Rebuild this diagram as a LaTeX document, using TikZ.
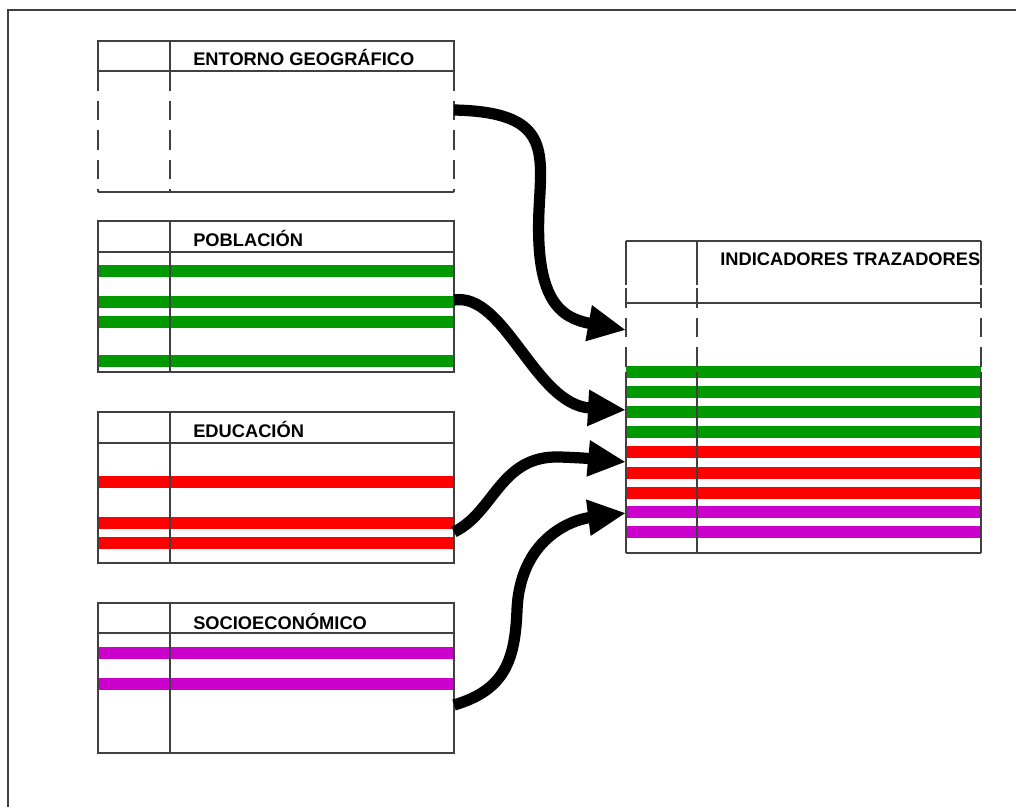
\documentclass[tikz,border=0pt]{standalone}
\usepackage{fontspec}
\setmainfont{Liberation Sans}
\usetikzlibrary{arrows.meta,calc}

\definecolor{gruen}{RGB}{0,153,0}
\definecolor{rot}{RGB}{255,0,0}
\definecolor{lila}{RGB}{204,0,204}

\tikzset{
  rahmen/.style={draw=black!75, line width=0.8pt},
  trenn/.style={draw=black!75, line width=0.8pt, dash pattern=on 14pt off 7pt},
  titel/.style={anchor=west, inner sep=0pt, font=\bfseries\fontsize{13}{15}\selectfont},
  balken/.style={line width=8.5pt},
  pfeil/.style={line width=8pt, -{Triangle[length=27pt,width=24pt]}}
}

\begin{document}
\begin{tikzpicture}[x=0.025cm,y=-0.025cm]
\useasboundingbox (0,0) rectangle (1016,807);
\draw[rahmen,line width=1.2pt] (8,807) -- (8,10) -- (1016,10);

\draw[rahmen] (98,41) rectangle (454,71);
\draw[rahmen] (170,41) -- (170,71);
\draw[rahmen] (98,192) -- (454,192);
\foreach \x in {98,170,454}
  \draw[trenn] (\x,71) -- (\x,192);
\node[titel] (t-entorno) at (193,57) {ENTORNO GEOGRÁFICO};

\foreach \y in {271,302,322,361}
  \draw[balken,gruen] (98,\y) -- (454,\y);
\draw[rahmen] (98,221) rectangle (454,372);
\draw[rahmen] (98,252) -- (454,252);
\draw[rahmen] (170,221) -- (170,372);
\node[titel] (t-poblacion) at (193,238) {POBLACIÓN};

\foreach \y in {482,523,543}
  \draw[balken,rot] (98,\y) -- (454,\y);
\draw[rahmen] (98,412) rectangle (454,563);
\draw[rahmen] (98,443) -- (454,443);
\draw[rahmen] (170,412) -- (170,563);
\node[titel] (t-educacion) at (193,429) {EDUCACIÓN};

\foreach \y in {653,684}
  \draw[balken,lila] (98,\y) -- (454,\y);
\draw[rahmen] (98,603) rectangle (454,753);
\draw[rahmen] (98,633) -- (454,633);
\draw[rahmen] (170,603) -- (170,753);
\node[titel] (t-socio) at (193,621) {SOCIOECONÓMICO};

\foreach \y in {372,392,412,432}
  \draw[balken,gruen] (626,\y) -- (981,\y);
\foreach \y in {452,473,493}
  \draw[balken,rot] (626,\y) -- (981,\y);
\foreach \y in {512,532}
  \draw[balken,lila] (626,\y) -- (981,\y);
\draw[rahmen] (626,241) -- (981,241);
\draw[rahmen] (626,303) -- (981,303);
\draw[rahmen] (626,553) -- (981,553);
\foreach \x in {626,697,981} {
  \draw[rahmen] (\x,241) -- (\x,285);
  \draw[trenn] (\x,288) -- (\x,372);
  \draw[rahmen] (\x,372) -- (\x,553);
}
\node[titel] (t-indicadores) at (720,259) {INDICADORES TRAZADORES};

\coordinate (entorno-aus) at (454,110);
\coordinate (poblacion-aus) at (454,300);
\coordinate (educacion-aus) at (454,532);
\coordinate (socio-aus) at (454,705);
\coordinate (ind-ein1) at (626,330);
\coordinate (ind-ein2) at (626,410);
\coordinate (ind-ein3) at (626,462);
\coordinate (ind-ein4) at (626,513);

\draw[pfeil] (entorno-aus) .. controls (550,112) and (542,150) .. (539,210)
  .. controls (535,300) and (560,318) .. (ind-ein1);
\draw[pfeil] (poblacion-aus) .. controls (505,292) and (535,405) .. (ind-ein2);
\draw[pfeil] (educacion-aus) .. controls (495,512) and (500,455) .. (560,457)
  .. controls (590,458) and (605,460) .. (ind-ein3);
\draw[pfeil] (socio-aus) .. controls (505,690) and (515,660) .. (517,610)
  .. controls (520,540) and (570,520) .. (ind-ein4);
\end{tikzpicture}
\end{document}
